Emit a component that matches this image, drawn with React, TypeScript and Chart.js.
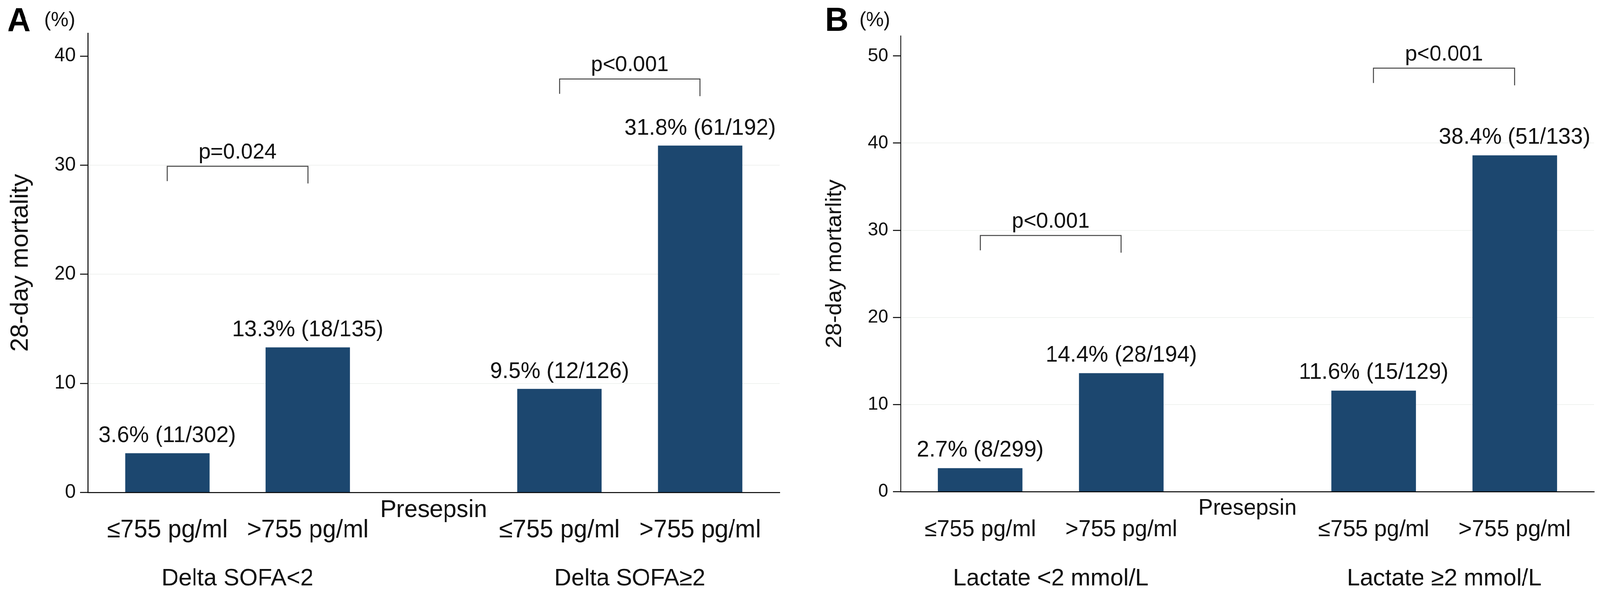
import { useEffect, useRef } from "react";
import { Chart, registerables } from "chart.js";

Chart.register(...registerables);

const FONT = "'Liberation Sans', Arial, Helvetica, sans-serif";
const INK = "#111111";
const BAR = "#1c476f";

// x categories (same for both panels)
const presepsinLabels = ["≤755 pg/ml", ">755 pg/ml", "≤755 pg/ml", ">755 pg/ml"];

// panel A: delta SOFA
const sofaGroups = ["Delta SOFA<2", "Delta SOFA≥2"];
const sofaMortality = [3.6, 13.3, 9.5, 31.8];
const sofaBarLabels = ["3.6% (11/302)", "13.3% (18/135)", "9.5% (12/126)", "31.8% (61/192)"];
const sofaPValues = ["p=0.024", "p<0.001"];
const sofaBracketLevels = [29.9, 37.9];
const sofaTicks = [0, 10, 20, 30, 40];

// panel B: lactate
const lactateGroups = ["Lactate <2 mmol/L", "Lactate ≥2 mmol/L"];
const lactateMortality = [2.7, 13.6, 11.6, 38.6];
const lactateBarLabels = ["2.7% (8/299)", "14.4% (28/194)", "11.6% (15/129)", "38.4% (51/133)"];
const lactatePValues = ["p<0.001", "p<0.001"];
const lactateBracketLevels = [29.4, 48.6];
const lactateTicks = [0, 10, 20, 30, 40, 50];

// two bars per group, groups spaced a bit wider apart
const GROUP_STEP = 2.79;
const slotOf = (i: number) => Math.floor(i / 2) * GROUP_STEP + (i % 2);

const W = 4191;
const H = 1521;

type Panel = {
  letter: string;
  yTitle: string;
  values: number[];
  barLabels: string[];
  groups: string[];
  pValues: string[];
  levels: number[];
  ticks: number[];
  yMax: number;
  left: number;
  width: number;
  plotLeft: number;
  plotRight: number;
  plotTop: number;
  plotBottom: number;
  tickSize: number;
  titleSize: number;
  titlePad: number;
  xTickSize: number;
  xTickPad: number;
  labelGap: number;
  presepsinSize: number;
  presepsinBase: number;
  groupSize: number;
  letterX: number;
  pctX: number;
};

const panelA: Panel = {
  letter: "A",
  yTitle: "28-day mortality",
  values: sofaMortality,
  barLabels: sofaBarLabels,
  groups: sofaGroups,
  pValues: sofaPValues,
  levels: sofaBracketLevels,
  ticks: sofaTicks,
  yMax: 42.1,
  left: 0,
  width: 2100,
  plotLeft: 230,
  plotRight: 2042,
  plotTop: 85,
  plotBottom: 1261,
  tickSize: 50,
  titleSize: 64,
  titlePad: 17,
  xTickSize: 64,
  xTickPad: 59,
  labelGap: 28,
  presepsinSize: 63,
  presepsinBase: 1324,
  groupSize: 62,
  letterX: 19,
  pctX: 116,
};

const panelB: Panel = {
  letter: "B",
  yTitle: "28-day mortarlity",
  values: lactateMortality,
  barLabels: lactateBarLabels,
  groups: lactateGroups,
  pValues: lactatePValues,
  levels: lactateBracketLevels,
  ticks: lactateTicks,
  yMax: 52.3,
  left: 2100,
  width: 2091,
  plotLeft: 259,
  plotRight: 2076,
  plotTop: 92,
  plotBottom: 1259,
  tickSize: 48,
  titleSize: 58,
  titlePad: 52,
  xTickSize: 59,
  xTickPad: 62,
  labelGap: 30,
  presepsinSize: 58,
  presepsinBase: 1318,
  groupSize: 62,
  letterX: 61,
  pctX: 151,
};

function annotations(p: Panel) {
  return {
    id: "annotations",
    afterDraw(chart: Chart) {
      const { ctx, chartArea } = chart;
      const meta = chart.getDatasetMeta(0);
      const y = chart.scales.y;
      ctx.save();
      ctx.fillStyle = INK;
      ctx.textAlign = "center";
      ctx.textBaseline = "alphabetic";

      // value labels over bars
      ctx.font = `58px ${FONT}`;
      meta.data.forEach((bar: any, i: number) => {
        ctx.fillText(p.barLabels[i], bar.x, bar.y - p.labelGap);
      });

      // significance brackets
      ctx.strokeStyle = "#444";
      ctx.lineWidth = 2.5;
      ctx.font = `56px ${FONT}`;
      p.pValues.forEach((txt, k) => {
        const x1 = (meta.data[2 * k] as any).x;
        const x2 = (meta.data[2 * k + 1] as any).x;
        const top = y.getPixelForValue(p.levels[k]);
        ctx.beginPath();
        ctx.moveTo(x1, top + 38);
        ctx.lineTo(x1, top);
        ctx.lineTo(x2, top);
        ctx.lineTo(x2, top + 44);
        ctx.stroke();
        ctx.fillText(txt, (x1 + x2) / 2, top - 20);
      });

      // axis caption sits between the axis and the tick labels
      ctx.font = `${p.presepsinSize}px ${FONT}`;
      ctx.fillText("Presepsin", (chartArea.left + chartArea.right) / 2, p.presepsinBase);

      // group labels under each pair
      ctx.font = `${p.groupSize}px ${FONT}`;
      p.groups.forEach((g, k) => {
        const x1 = (meta.data[2 * k] as any).x;
        const x2 = (meta.data[2 * k + 1] as any).x;
        ctx.fillText(g, (x1 + x2) / 2, 1499);
      });

      // panel letter and unit
      ctx.textAlign = "left";
      ctx.fillStyle = "#000";
      ctx.font = `bold 85px ${FONT}`;
      ctx.fillText(p.letter, p.letterX, p.letter === "A" ? 80 : 79);
      ctx.fillStyle = INK;
      ctx.font = `52px ${FONT}`;
      ctx.fillText("(%)", p.pctX, 67);
      ctx.restore();
    },
  };
}

function PanelChart({ panel }: { panel: Panel }) {
  const ref = useRef<HTMLCanvasElement>(null);

  useEffect(() => {
    if (!ref.current) return;
    const positions = panel.values.map((_, i) => slotOf(i));
    const top = panel.ticks[panel.ticks.length - 1];

    const chart = new Chart(ref.current, {
      type: "bar",
      data: {
        datasets: [
          {
            data: panel.values.map((v, i) => ({ x: positions[i], y: v })),
            backgroundColor: BAR,
            borderWidth: 0,
            categoryPercentage: 1,
            barPercentage: 0.6,
          },
        ],
      },
      options: {
        responsive: false,
        animation: false,
        events: [],
        layout: {
          padding: { left: 0, top: panel.plotTop, right: panel.width - panel.plotRight, bottom: 0 },
        },
        plugins: { legend: { display: false }, tooltip: { enabled: false } },
        scales: {
          x: {
            type: "linear",
            min: -0.565,
            max: 4.355,
            offset: false,
            afterBuildTicks: (s: any) => {
              s.ticks = positions.map((v) => ({ value: v }));
            },
            afterFit: (s: any) => {
              s.height = H - panel.plotBottom;
            },
            border: { display: true, color: "#000", width: 2.5 },
            grid: { display: false, drawTicks: false, offset: false },
            ticks: {
              autoSkip: false,
              maxRotation: 0,
              padding: panel.xTickPad,
              color: INK,
              font: { family: FONT, size: panel.xTickSize },
              callback: (_v: any, i: number) => presepsinLabels[i],
            },
          },
          y: {
            min: 0,
            max: panel.yMax,
            afterBuildTicks: (s: any) => {
              s.ticks = panel.ticks.map((v) => ({ value: v }));
            },
            afterFit: (s: any) => {
              s.width = panel.plotLeft;
            },
            border: { display: true, color: "#000", width: 2.5 },
            grid: {
              color: (c: any) =>
                c.tick && (c.tick.value === 0 || c.tick.value === top) ? "rgba(0,0,0,0)" : "#f0f2f0",
              lineWidth: 2,
              drawTicks: true,
              tickLength: 20,
              tickColor: "#000",
              tickWidth: 2.5,
            },
            ticks: {
              padding: 12,
              color: INK,
              font: { family: FONT, size: panel.tickSize },
            },
            title: {
              display: true,
              text: panel.yTitle,
              color: INK,
              font: { family: FONT, size: panel.titleSize },
              padding: { top: panel.titlePad, bottom: 0 },
            },
          },
        },
      },
      plugins: [annotations(panel)],
    });

    return () => {
      chart.destroy();
    };
  }, [panel]);

  return (
    <div style={{ position: "absolute", left: panel.left, top: 0, width: panel.width, height: H }}>
      <canvas ref={ref} width={panel.width} height={H} />
    </div>
  );
}

export default function App() {
  // the window can be narrower than the figure; squeeze it to fit the width
  const sx = typeof window !== "undefined" ? Math.min(1, window.innerWidth / W) : 1;
  return (
    <div
      style={{
        position: "fixed",
        left: 0,
        top: 0,
        width: W,
        height: H,
        background: "#fff",
        transform: `scale(${sx}, 1)`,
        transformOrigin: "0 0",
      }}
    >
      <PanelChart panel={panelA} />
      <PanelChart panel={panelB} />
    </div>
  );
}
